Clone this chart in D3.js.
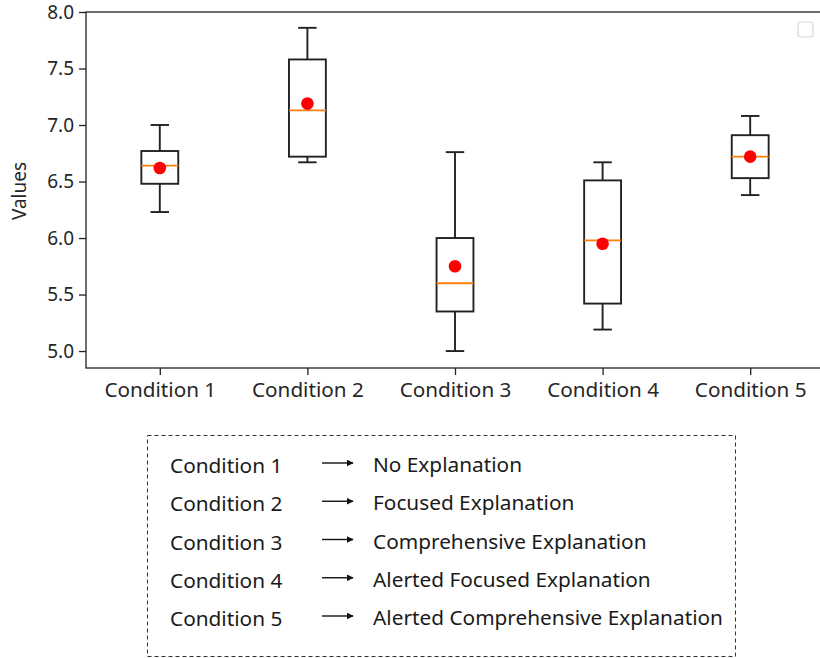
<!DOCTYPE html>
<html>
<head>
<meta charset="utf-8">
<script src="https://cdn.jsdelivr.net/npm/d3@7"></script>
<style>
  body { margin: 0; background: #fff; }
  svg { display: block; font-family: "Noto Sans", sans-serif; }
</style>
</head>
<body>
<svg id="chart" width="820" height="658"></svg>
<script>
// box plot stats
const categories = ["Condition 1", "Condition 2", "Condition 3", "Condition 4", "Condition 5"];
const whiskerLow = [6.23, 6.67, 5.00, 5.19, 6.38];
const q1 = [6.48, 6.72, 5.35, 5.42, 6.53];
const medians = [6.64, 7.13, 5.60, 5.98, 6.72];
const q3 = [6.77, 7.58, 6.00, 6.51, 6.91];
const whiskerHigh = [7.00, 7.86, 6.76, 6.67, 7.08];
const means = [6.62, 7.19, 5.75, 5.95, 6.72];
const yTicks = [5.0, 5.5, 6.0, 6.5, 7.0, 7.5, 8.0];
const explanations = ["No Explanation", "Focused Explanation", "Comprehensive Explanation",
  "Alerted Focused Explanation", "Alerted Comprehensive Explanation"];

const svg = d3.select("#chart");
const FONT = '"Noto Sans", sans-serif';

let margin = { top: 12, left: 86, right: 824, bottom: 368 };

let x = d3.scaleLinear()
  .domain([0.5, categories.length + 0.5])
  .range([margin.left, margin.right]);

let y = d3.scaleLinear()
  .domain([4.85, 8.0])
  .range([margin.bottom, margin.top]);

let boxW = x(1.5) - x(1.25);   // widths = 0.5
let capW = boxW / 2;

let data = categories.map(function (c, i) {
  return { name: c, pos: i + 1, lo: whiskerLow[i], q1: q1[i], med: medians[i],
           q3: q3[i], hi: whiskerHigh[i], mean: means[i] };
});

// ===== axes =====
let yAxis = d3.axisLeft(y)
  .tickValues(yTicks)
  .tickFormat(d3.format(".1f"))
  .tickSize(7)
  .tickPadding(5);

let xAxis = d3.axisBottom(x)
  .tickValues(data.map(function (d) { return d.pos; }))
  .tickFormat(function (d) { return categories[d - 1]; })
  .tickSize(7)
  .tickPadding(7);

let gy = svg.append("g")
  .attr("transform", "translate(" + margin.left + ",0)")
  .call(yAxis)
  .attr("font-family", FONT)
  .attr("font-size", 19);
gy.select(".domain").remove();
gy.selectAll("line").attr("stroke", "#222").attr("stroke-width", 1.3);
gy.selectAll("text").attr("fill", "#262626");

let gx = svg.append("g")
  .attr("transform", "translate(0," + margin.bottom + ")")
  .call(xAxis)
  .attr("font-family", FONT)
  .attr("font-size", 20.7);
gx.select(".domain").remove();
gx.selectAll("line").attr("stroke", "#222").attr("stroke-width", 1.3);
gx.selectAll("text").attr("fill", "#262626");

// frame
svg.append("rect")
  .attr("x", margin.left)
  .attr("y", margin.top)
  .attr("width", margin.right - margin.left)
  .attr("height", margin.bottom - margin.top)
  .attr("fill", "none")
  .attr("stroke", "#222")
  .attr("stroke-width", 1.3);

svg.append("text")
  .attr("transform", "translate(26," + 191 + ") rotate(-90)")
  .attr("text-anchor", "middle")
  .attr("fill", "#262626")
  .style("font-size", "19px")
  .text("Values");

// ===== boxes =====
let boxes = svg.append("g").selectAll("g")
  .data(data)
  .enter().append("g");

boxes.append("line")
  .attr("x1", function (d) { return x(d.pos); })
  .attr("x2", function (d) { return x(d.pos); })
  .attr("y1", function (d) { return y(d.q3); })
  .attr("y2", function (d) { return y(d.hi); });

boxes.append("line")
  .attr("x1", function (d) { return x(d.pos); })
  .attr("x2", function (d) { return x(d.pos); })
  .attr("y1", function (d) { return y(d.q1); })
  .attr("y2", function (d) { return y(d.lo); });

boxes.append("line")
  .attr("x1", function (d) { return x(d.pos) - capW / 2; })
  .attr("x2", function (d) { return x(d.pos) + capW / 2; })
  .attr("y1", function (d) { return y(d.hi); })
  .attr("y2", function (d) { return y(d.hi); });

boxes.append("line")
  .attr("x1", function (d) { return x(d.pos) - capW / 2; })
  .attr("x2", function (d) { return x(d.pos) + capW / 2; })
  .attr("y1", function (d) { return y(d.lo); })
  .attr("y2", function (d) { return y(d.lo); });

boxes.selectAll("line")
  .attr("stroke", "#222")
  .attr("stroke-width", 1.9);

boxes.append("rect")
  .attr("x", function (d) { return x(d.pos) - boxW / 2; })
  .attr("y", function (d) { return y(d.q3); })
  .attr("width", boxW)
  .attr("height", function (d) { return y(d.q1) - y(d.q3); })
  .attr("fill", "none")
  .attr("stroke", "#222")
  .attr("stroke-width", 1.9);

boxes.append("line")
  .attr("x1", function (d) { return x(d.pos) - boxW / 2; })
  .attr("x2", function (d) { return x(d.pos) + boxW / 2; })
  .attr("y1", function (d) { return y(d.med); })
  .attr("y2", function (d) { return y(d.med); })
  .attr("stroke", "#ff7f0e")
  .attr("stroke-width", 1.8);

boxes.append("circle")
  .attr("cx", function (d) { return x(d.pos); })
  .attr("cy", function (d) { return y(d.mean); })
  .attr("r", 6.3)
  .attr("fill", "#ff0000");

// empty legend box top right
svg.append("rect")
  .attr("x", 798).attr("y", 22)
  .attr("width", 15).attr("height", 15)
  .attr("rx", 3)
  .attr("fill", "#fff")
  .attr("stroke", "#d8d8d8")
  .attr("stroke-width", 1.2);

// ===== explanation panel =====
svg.append("defs").append("marker")
  .attr("id", "head")
  .attr("viewBox", "0 0 10 10")
  .attr("refX", 9).attr("refY", 5)
  .attr("markerWidth", 7).attr("markerHeight", 7)
  .attr("markerUnits", "userSpaceOnUse")
  .attr("orient", "auto")
  .append("path")
  .attr("d", "M0,0 L10,5 L0,10 z")
  .attr("fill", "#111");

svg.append("rect")
  .attr("x", 147.5).attr("y", 435.5)
  .attr("width", 588).attr("height", 221)
  .attr("fill", "none")
  .attr("stroke", "#333")
  .attr("stroke-width", 1)
  .attr("stroke-dasharray", "4,3");

let rowY = d3.scalePoint()
  .domain(categories)
  .range([473, 626]);

let rows = svg.append("g").selectAll("g")
  .data(categories)
  .enter().append("g")
  .attr("transform", function (d) { return "translate(0," + rowY(d) + ")"; });

rows.append("text")
  .attr("x", 170)
  .attr("fill", "#1a1a1a")
  .style("font-size", "20.8px")
  .text(function (d) { return d; });

rows.append("line")
  .attr("x1", 322).attr("x2", 353)
  .attr("y1", -10).attr("y2", -10)
  .attr("stroke", "#111")
  .attr("stroke-width", 1.4)
  .attr("marker-end", "url(#head)");

rows.append("text")
  .attr("x", 373)
  .attr("y", -1)
  .attr("fill", "#1a1a1a")
  .style("font-size", "20.8px")
  .text(function (d, i) { return explanations[i]; });
</script>
</body>
</html>
